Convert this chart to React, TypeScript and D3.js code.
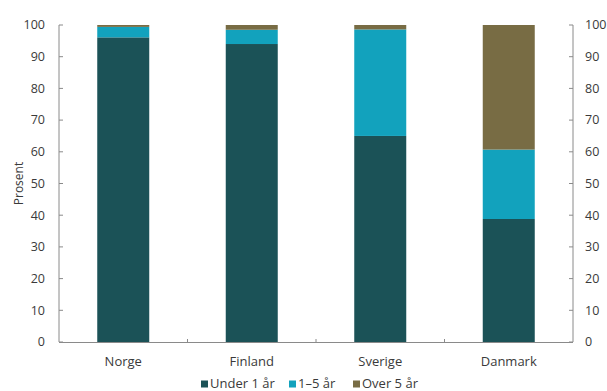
import React from "react";
import * as d3 from "d3";

const categories = ["Norge", "Finland", "Sverige", "Danmark"];
const seriesNames = ["Under 1 år", "1–5 år", "Over 5 år"];
const under1 = [96.1, 94.0, 65.0, 38.8];
const oneToFive = [3.3, 4.5, 33.6, 21.9];
const over5 = [0.6, 1.5, 1.4, 39.3];
const yTicks = [0, 10, 20, 30, 40, 50, 60, 70, 80, 90, 100];
const colors = ["#1b5257", "#12a2bd", "#786c44"];

const W = 607;
const H = 391;
const m = { left: 59, right: 573, top: 25, bottom: 342 };

export default function App() {
  const x = d3.scaleBand<string>().domain(categories).range([m.left, m.right]).paddingInner(0).paddingOuter(0);
  const y = d3.scaleLinear().domain([0, 100]).range([m.bottom, m.top]);
  const barW = 52;
  const rows = categories.map((c, i) => ({ cat: c, v0: under1[i], v1: oneToFive[i], v2: over5[i] }));
  const stack = d3.stack<any>().keys(["v0", "v1", "v2"])(rows);
  const font = "'Open Sans', 'Noto Sans', sans-serif";
  const axisColor = "#8a8a8a";
  const textColor = "#3a3a3a";
  const legendItems = [
    { x: 201, label: seriesNames[0], color: colors[0] },
    { x: 289, label: seriesNames[1], color: colors[1] },
    { x: 353, label: seriesNames[2], color: colors[2] },
  ];
  return (
    <div style={{ position: "absolute", left: 0, top: 0 }}>
      <svg width={W} height={H} style={{ display: "block", background: "#fff" }} fontFamily={font}>
        {stack.map((s, si) => (
          <g key={si} fill={colors[si]}>
            {s.map((d, i) => {
              const cx = (x(categories[i]) as number) + x.bandwidth() / 2;
              return (
                <rect key={i} x={cx - barW / 2} width={barW} y={y(d[1])} height={Math.max(0, y(d[0]) - y(d[1]))} />
              );
            })}
          </g>
        ))}
        {/* axes */}
        <line x1={m.left} x2={m.left} y1={m.top} y2={m.bottom} stroke={axisColor} strokeWidth={1} />
        <line x1={m.right} x2={m.right} y1={m.top} y2={m.bottom} stroke={axisColor} strokeWidth={1} />
        <line x1={m.left} x2={m.right} y1={m.bottom + 0.5} y2={m.bottom + 0.5} stroke={axisColor} strokeWidth={1} />
        {yTicks.map((t) => (
          <g key={t}>
            <line x1={m.left} x2={m.left + 4} y1={y(t)} y2={y(t)} stroke={axisColor} />
            <line x1={m.right - 4} x2={m.right} y1={y(t)} y2={y(t)} stroke={axisColor} />
            <text x={45} y={y(t)} dy="0.35em" textAnchor="end" fontSize={12.5} fill={textColor}>{t}</text>
            <text x={585} y={y(t)} dy="0.35em" textAnchor="start" fontSize={12.5} fill={textColor}>{t}</text>
          </g>
        ))}
        {categories.slice(1).map((c) => (
          <line key={c} x1={x(c) as number} x2={x(c) as number} y1={m.bottom - 3} y2={m.bottom + 0.5} stroke={axisColor} />
        ))}
        {categories.map((c) => (
          <text key={c} x={(x(c) as number) + x.bandwidth() / 2} y={366} textAnchor="middle" fontSize={13} fill={textColor}>{c}</text>
        ))}
        <text transform={`translate(23,${(m.top + m.bottom) / 2}) rotate(-90)`} textAnchor="middle" fontSize={12} fill={textColor}>Prosent</text>
        {legendItems.map((l) => (
          <g key={l.label}>
            <rect x={l.x} y={380.5} width={7} height={7} fill={l.color} />
            <text x={l.x + 9} y={388} fontSize={13} fill={textColor}>{l.label}</text>
          </g>
        ))}
      </svg>
    </div>
  );
}
